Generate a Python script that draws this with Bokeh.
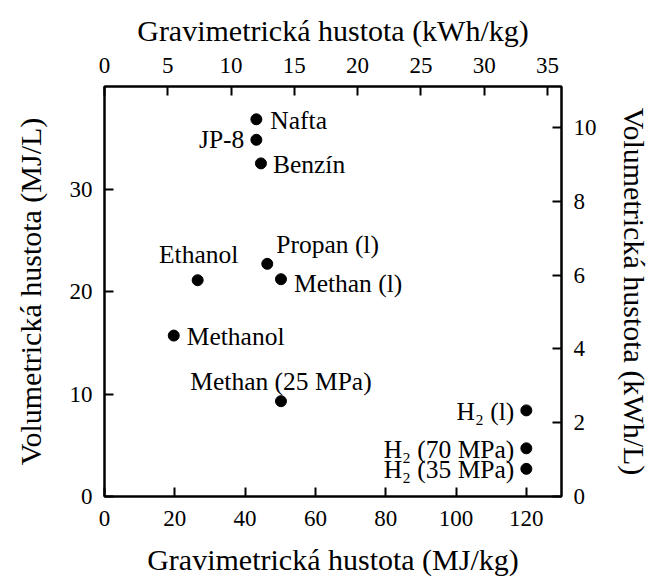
from bokeh.plotting import figure
from bokeh.models import LinearAxis, Range1d, FixedTicker, ColumnDataSource
from bokeh.core.properties import value
from bokeh.embed import file_html
from bokeh.resources import INLINE

# ---- data ----
fuels = ["Nafta", "JP-8", "Benzín", "Propan (l)", "Methan (l)", "Ethanol",
         "Methanol", "Methan (25 MPa)", "H\u2082 (l)", "H\u2082 (70 MPa)", "H\u2082 (35 MPa)"]
grav_mj_kg = [43.2, 43.2, 44.5, 46.3, 50.2, 26.5, 19.7, 50.2, 120.0, 120.0, 120.0]
vol_mj_l = [36.8, 34.8, 32.5, 22.7, 21.2, 21.1, 15.7, 9.3, 8.4, 4.7, 2.7]

bottom_ticks = [0, 20, 40, 60, 80, 100, 120]
left_ticks = [0, 10, 20, 30]
top_ticks = [0, 5, 10, 15, 20, 25, 30, 35]
right_ticks = [0, 2, 4, 6, 8, 10]

MJ_PER_KWH = 3.6
X_MAX = 130
Y_MAX = 40

# label placement (style): x offset, y offset, align
label_style = [
    (14, 1, "left"), (-12, 0, "right"), (12, 1, "left"), (9, -19, "left"),
    (13, 4, "left"), (1, -26, "center"), (13, 1, "left"), (0, -20, "center"),
    (-12, 1, "right"), (-12, 1, "right"), (-12, 1, "right"),
]

FONT = "Liberation Serif"

p = figure(width=653, height=578, output_backend="svg", toolbar_location=None,
           x_range=Range1d(0, X_MAX), y_range=Range1d(0, Y_MAX),
           x_axis_location=None, y_axis_location=None,
           min_border_left=104, min_border_right=90, min_border_top=86, min_border_bottom=82)
p.extra_x_ranges = {"kwh": Range1d(0, X_MAX / MJ_PER_KWH)}
p.extra_y_ranges = {"kwh": Range1d(0, Y_MAX / MJ_PER_KWH)}

p.xgrid.visible = False
p.ygrid.visible = False
p.outline_line_color = "black"
p.outline_line_width = 2
p.background_fill_color = "white"
p.border_fill_color = "white"

bottom_axis = LinearAxis(ticker=FixedTicker(ticks=bottom_ticks),
                         axis_label="Gravimetrická hustota (MJ/kg)")
left_axis = LinearAxis(ticker=FixedTicker(ticks=left_ticks),
                       axis_label="Volumetrická hustota (MJ/L)")
top_axis = LinearAxis(x_range_name="kwh", ticker=FixedTicker(ticks=top_ticks),
                      axis_label="Gravimetrická hustota (kWh/kg)")
right_axis = LinearAxis(y_range_name="kwh", ticker=FixedTicker(ticks=right_ticks),
                        axis_label="Volumetrická hustota (kWh/L)")
p.add_layout(bottom_axis, "below")
p.add_layout(left_axis, "left")
p.add_layout(top_axis, "above")
p.add_layout(right_axis, "right")

for ax in [bottom_axis, left_axis, top_axis, right_axis]:
    ax.axis_line_color = "black"
    ax.axis_line_width = 2
    ax.major_tick_line_color = "black"
    ax.major_tick_line_width = 2
    ax.major_tick_in = 9
    ax.major_tick_out = 0
    ax.minor_tick_line_color = None
    ax.major_label_text_font = FONT
    ax.major_label_text_font_size = "23px"
    ax.major_label_text_color = "black"
    ax.major_label_standoff = 12
    ax.axis_label_text_font = FONT
    ax.axis_label_text_font_size = "30px"
    ax.axis_label_text_font_style = "normal"
    ax.axis_label_text_color = "black"

left_axis.axis_label_standoff = 20
bottom_axis.axis_label_standoff = 14
bottom_axis.major_label_standoff = 14
top_axis.axis_label_standoff = 8
right_axis.axis_label_standoff = 18
top_axis.major_label_standoff = 14

src = ColumnDataSource(dict(x=grav_mj_kg, y=vol_mj_l, name=fuels,
                            xo=[s[0] for s in label_style],
                            yo=[s[1] for s in label_style],
                            al=[s[2] for s in label_style]))

p.scatter("x", "y", source=src, size=11, color="black")
p.text("x", "y", text="name", source=src, x_offset="xo", y_offset="yo",
       text_align="al", text_baseline="middle", text_font=value(FONT),
       text_font_size="25.5px", text_color="black")

open("out.html", "w").write(file_html(p, INLINE))
